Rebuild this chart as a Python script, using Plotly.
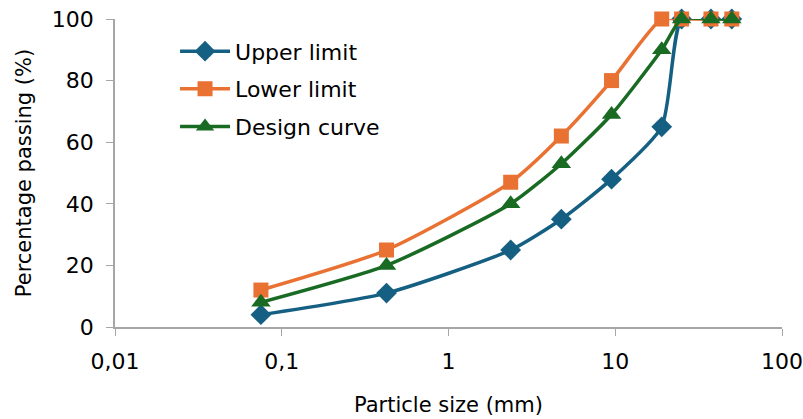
import plotly.graph_objects as go

sizes = [0.075, 0.425, 2.36, 4.75, 9.5, 19, 25, 37.5, 50]
upper = [4, 11, 25, 35, 48, 65, 100, 100, 100]
lower = [12, 25, 47, 62, 80, 100, 100, 100, 100]
design = [8, 20, 40, 53, 69, 90, 100, 100, 100]

x_tickvals = [0.01, 0.1, 1, 10, 100]
x_ticktext = ["0,01", "0,1", "1", "10", "100"]
y_tickvals = [0, 20, 40, 60, 80, 100]

FONT = "DejaVu Sans, Liberation Sans, Arial, sans-serif"

series = [
    ("Upper limit", upper, "#156082", "diamond", 16),
    ("Lower limit", lower, "#E97132", "square", 15),
    ("Design curve", design, "#196B24", "triangle-up", 17),
]

fig = go.Figure()
for i, (name, vals, col, sym, ms) in enumerate(series):
    fig.add_trace(go.Scatter(
        x=sizes, y=vals, name=name, mode="lines+markers",
        line=dict(color=col, width=3.5, shape="spline", smoothing=0.6),
        marker=dict(symbol=sym, size=ms, color=col),
        cliponaxis=False, legendgroup=f"g{i}",
    ))

fig.update_layout(
    width=803, height=419,
    margin=dict(l=115, r=21, t=19, b=92),
    paper_bgcolor="white", plot_bgcolor="white",
    font=dict(family=FONT, size=22, color="#000000"),
    showlegend=True,
    legend=dict(x=0.09, y=0.963, xanchor="left", yanchor="top",
                bgcolor="rgba(0,0,0,0)", font=dict(size=22),
                tracegroupgap=6, itemwidth=50),
    xaxis=dict(type="log", range=[-2, 2], tickvals=x_tickvals, ticktext=x_ticktext,
               showgrid=False, zeroline=False, showline=True, linecolor="#A6A6A6",
               linewidth=1.5, ticks="outside", tickcolor="#A6A6A6", ticklen=7,
               tickfont=dict(size=22), ticklabelstandoff=7, automargin=False,
               title=dict(text="Particle size (mm)", font=dict(size=21), standoff=24)),
    yaxis=dict(range=[0, 100], tickvals=y_tickvals, showgrid=False, zeroline=False,
               showline=True, linecolor="#A6A6A6", linewidth=1.5, ticks="outside",
               tickcolor="#A6A6A6", ticklen=7, tickfont=dict(size=22),
               ticklabelstandoff=8, automargin=False,
               title=dict(text="Percentage passing (%)", font=dict(size=21), standoff=14)),
)

fig.write_html("out.html")
